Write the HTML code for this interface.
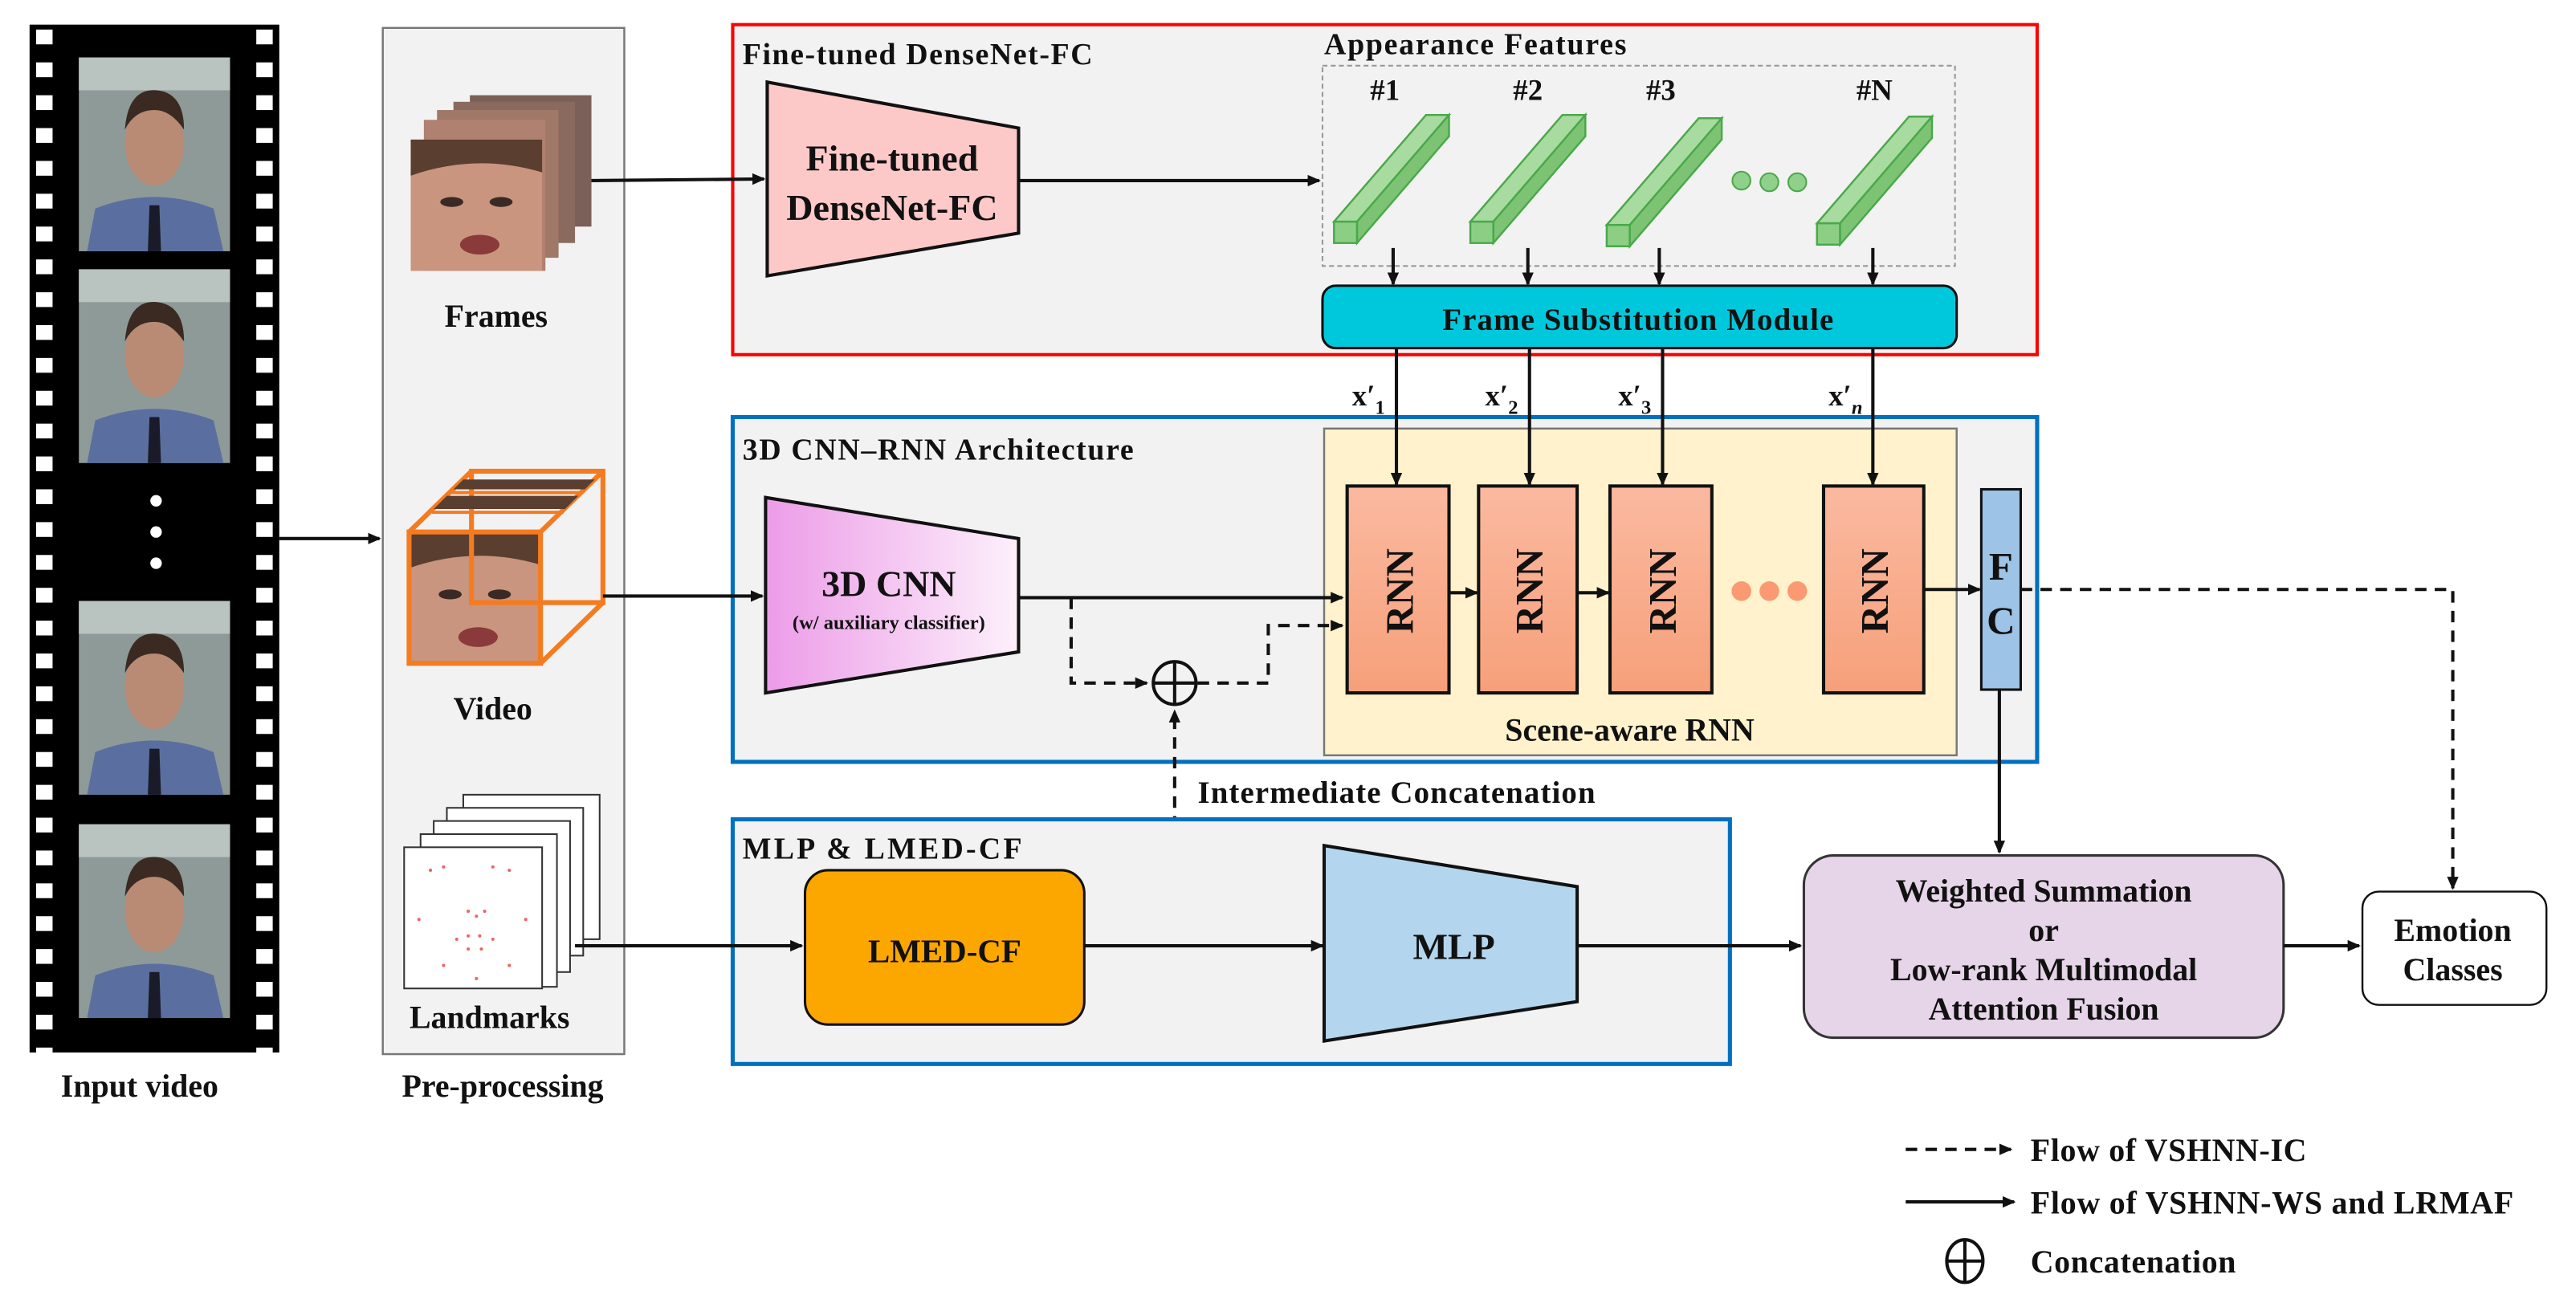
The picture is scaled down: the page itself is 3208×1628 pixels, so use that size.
<!DOCTYPE html>
<html><head><meta charset="utf-8"><style>
html,body{margin:0;padding:0;background:#fff;}
svg{display:block;}
text{font-family:"Liberation Serif",serif;font-weight:bold;fill:#111;}
</style></head><body>
<svg width="3208" height="1628" viewBox="0 0 1568 796" preserveAspectRatio="none" xmlns="http://www.w3.org/2000/svg">
<defs>
<marker id="ah" markerWidth="8" markerHeight="8" refX="7" refY="4" orient="auto" markerUnits="userSpaceOnUse"><path d="M0,0.5 L8,4 L0,7.5 z" fill="#111"/></marker>
<pattern id="holes" x="0" y="18" width="10" height="20" patternUnits="userSpaceOnUse"><rect x="0" y="0" width="10" height="9" fill="#fff"/></pattern>
<linearGradient id="rnn" x1="0" y1="0" x2="0" y2="1"><stop offset="0" stop-color="#fbb9a0"/><stop offset="1" stop-color="#f6a07a"/></linearGradient>
<linearGradient id="cnn" x1="0" y1="0" x2="1" y2="0"><stop offset="0" stop-color="#ec9ce8"/><stop offset="1" stop-color="#fdf0fb"/></linearGradient>
<g id="face">
<rect x="0" y="0" width="92" height="118" fill="#8e9a98"/>
<rect x="0" y="0" width="92" height="20" fill="#b9c3c0"/>
<path d="M5,118 L10,92 Q46,78 82,92 L88,118 z" fill="#5a6fa0"/>
<path d="M43,90 L49,90 L50,118 L42,118 z" fill="#1a1a28"/>
<ellipse cx="46" cy="52" rx="18" ry="26" fill="#b98a74"/>
<path d="M28,44 Q30,18 48,20 Q64,22 64,44 Q56,32 46,32 Q34,32 28,44 z" fill="#3a2a22"/>
</g>
<g id="bigface">
<rect x="0" y="0" width="80" height="80" fill="#c9957e"/>
<path d="M0,0 L80,0 L80,20 Q40,8 0,22 z" fill="#5a3e30"/>
<ellipse cx="25" cy="38" rx="7" ry="3" fill="#3a2a25"/>
<ellipse cx="55" cy="38" rx="7" ry="3" fill="#3a2a25"/>
<ellipse cx="42" cy="64" rx="12" ry="6" fill="#8a3a3a"/>
</g>
</defs>

<!-- Film strip -->
<rect x="18" y="15" width="152" height="626" fill="#000"/>
<rect x="22" y="15" width="10" height="626" fill="url(#holes)"/>
<rect x="156" y="15" width="10" height="626" fill="url(#holes)"/>
<use href="#face" x="48" y="35"/>
<use href="#face" x="48" y="164"/>
<use href="#face" x="48" y="366"/>
<use href="#face" x="48" y="502"/>
<circle cx="95" cy="305" r="3.5" fill="#fff"/>
<circle cx="95" cy="324" r="3.5" fill="#fff"/>
<circle cx="95" cy="343" r="3.5" fill="#fff"/>
<text x="85" y="668" font-size="19.5" text-anchor="middle">Input video</text>
<line x1="170" y1="328" x2="231" y2="328" stroke="#111" stroke-width="2" marker-end="url(#ah)"/>

<!-- Preprocessing -->
<rect x="233" y="17" width="147" height="625" fill="#f2f2f2" stroke="#777" stroke-width="1.2"/>
<text x="306" y="668" font-size="19.5" text-anchor="middle">Pre-processing</text>
<rect x="286" y="58" width="74" height="80" fill="#7a6058"/>
<rect x="276" y="62" width="74" height="86" fill="#8a6a5e"/>
<rect x="266" y="67" width="74" height="90" fill="#a07868"/>
<rect x="258" y="73" width="74" height="92" fill="#b08070"/>
<use href="#bigface" x="250" y="85"/>
<text x="302" y="199" font-size="19.5" text-anchor="middle">Frames</text>
<rect x="249" y="324" width="80" height="80" fill="#c9957e"/>
<use href="#bigface" x="249" y="324"/>
<g fill="none" stroke="#f47b20" stroke-width="3">
<rect x="249" y="324" width="80" height="80"/>
<rect x="287" y="287" width="80" height="80"/>
<line x1="249" y1="324" x2="287" y2="287"/><line x1="329" y1="324" x2="367" y2="287"/>
<line x1="329" y1="404" x2="367" y2="367"/>
<line x1="275" y1="300" x2="355" y2="300" stroke-width="2"/>
<line x1="263" y1="312" x2="343" y2="312" stroke-width="2"/>
</g>
<path d="M264,310 L344,310 L352,302 L272,302 z M276,298 L356,298 L362,292 L282,292 z" fill="#5a3e30"/>
<text x="300" y="438" font-size="19.5" text-anchor="middle">Video</text>
<g fill="#fff" stroke="#333" stroke-width="1">
<rect x="282" y="484" width="83" height="88"/>
<rect x="272" y="492" width="83" height="90"/>
<rect x="264" y="500" width="83" height="92"/>
<rect x="256" y="508" width="83" height="93"/>
<rect x="246" y="516" width="84" height="86"/>
</g>
<g fill="#e66">
<circle cx="262" cy="530" r="1"/><circle cx="270" cy="528" r="1"/><circle cx="300" cy="528" r="1"/><circle cx="310" cy="530" r="1"/>
<circle cx="285" cy="555" r="1"/><circle cx="290" cy="558" r="1"/><circle cx="295" cy="555" r="1"/>
<circle cx="278" cy="572" r="1"/><circle cx="285" cy="570" r="1"/><circle cx="292" cy="570" r="1"/><circle cx="300" cy="572" r="1"/>
<circle cx="285" cy="578" r="1"/><circle cx="293" cy="578" r="1"/><circle cx="255" cy="560" r="1"/><circle cx="320" cy="560" r="1"/>
<circle cx="270" cy="588" r="1"/><circle cx="310" cy="588" r="1"/><circle cx="290" cy="596" r="1"/>
</g>
<text x="298" y="626" font-size="19.5" text-anchor="middle">Landmarks</text>

<!-- Red box -->
<rect x="446" y="15" width="794" height="201" fill="#f2f2f2" stroke="#f00" stroke-width="2"/>
<text x="452" y="39" font-size="18.5" textLength="213">Fine-tuned DenseNet-FC</text>
<polygon points="467,50 620,78 620,142 467,168" fill="#fcc9c8" stroke="#111" stroke-width="2"/>
<text x="543" y="104" font-size="22.5" text-anchor="middle">Fine-tuned</text>
<text x="543" y="134" font-size="22.5" text-anchor="middle">DenseNet-FC</text>
<line x1="360" y1="110" x2="465" y2="109" stroke="#111" stroke-width="2" marker-end="url(#ah)"/>
<line x1="620" y1="110" x2="803" y2="110" stroke="#111" stroke-width="2" marker-end="url(#ah)"/>
<rect x="805" y="40" width="385" height="122" fill="none" stroke="#999" stroke-width="1" stroke-dasharray="3,2"/>
<text x="806" y="33" font-size="18.5" textLength="184">Appearance Features</text>
<g font-size="18" text-anchor="middle">
<text x="843" y="61">#1</text><text x="930" y="61">#2</text><text x="1011" y="61">#3</text><text x="1141" y="61">#N</text>
</g>
<g stroke="#4aa84a" stroke-width="1.2">
<g id="bar">
<polygon points="812,135 868,70 882,70 826,135" fill="#a8dba0"/>
<polygon points="826,135 882,70 882,83 826,148" fill="#7cc474"/>
<rect x="812" y="135" width="14" height="13" fill="#8ccf84"/>
</g>
<use href="#bar" x="83"/>
<use href="#bar" x="166" y="2"/>
<use href="#bar" x="294" y="1"/>
</g>
<g fill="#8fd18a" stroke="#4aa84a"><circle cx="1060" cy="110" r="5.5"/><circle cx="1077" cy="111" r="5.5"/><circle cx="1094" cy="111" r="5.5"/></g>
<g stroke="#111" stroke-width="2" marker-end="url(#ah)">
<line x1="848" y1="151" x2="848" y2="173"/><line x1="930" y1="151" x2="930" y2="173"/>
<line x1="1010" y1="151" x2="1010" y2="173"/><line x1="1140" y1="151" x2="1140" y2="173"/>
</g>
<rect x="805" y="174" width="386" height="38" rx="8" fill="#00c8dc" stroke="#111" stroke-width="1.5"/>
<text x="997" y="201" font-size="19" text-anchor="middle" textLength="238">Frame Substitution Module</text>

<!-- Blue box 3D CNN-RNN -->
<rect x="446" y="254" width="794" height="210" fill="#f2f2f2" stroke="#0070c0" stroke-width="2.5"/>
<text x="452" y="280" font-size="18.5" textLength="238">3D CNN–RNN Architecture</text>
<rect x="806" y="261" width="385" height="199" fill="#fff2cc" stroke="#777" stroke-width="1.2"/>
<text x="992" y="451" font-size="19.5" text-anchor="middle">Scene-aware RNN</text>
<g stroke="#111" stroke-width="2" marker-end="url(#ah)">
<line x1="850" y1="212" x2="850" y2="295"/><line x1="931" y1="212" x2="931" y2="295"/>
<line x1="1012" y1="212" x2="1012" y2="295"/><line x1="1140" y1="212" x2="1140" y2="295"/>
</g>
<g font-size="18">
<text x="823" y="247">x′<tspan font-size="12" dy="5">1</tspan></text>
<text x="904" y="247">x′<tspan font-size="12" dy="5">2</tspan></text>
<text x="985" y="247">x′<tspan font-size="12" dy="5">3</tspan></text>
<text x="1113" y="247">x′<tspan font-size="12" dy="5" font-style="italic">n</tspan></text>
</g>
<g fill="url(#rnn)" stroke="#111" stroke-width="2">
<rect x="820" y="296" width="62" height="126"/><rect x="900" y="296" width="60" height="126"/>
<rect x="980" y="296" width="62" height="126"/><rect x="1110" y="296" width="61" height="126"/>
</g>
<g font-size="24" text-anchor="middle">
<text transform="translate(860,360) rotate(-90)">RNN</text>
<text transform="translate(939,360) rotate(-90)">RNN</text>
<text transform="translate(1020,360) rotate(-90)">RNN</text>
<text transform="translate(1149,360) rotate(-90)">RNN</text>
</g>
<g stroke="#111" stroke-width="2" marker-end="url(#ah)">
<line x1="882" y1="361" x2="899" y2="361"/><line x1="960" y1="361" x2="979" y2="361"/>
<line x1="1171" y1="359" x2="1205" y2="359"/>
</g>
<g fill="#fb9a72"><circle cx="1060" cy="360" r="6"/><circle cx="1077" cy="360" r="6"/><circle cx="1094" cy="360" r="6"/></g>
<rect x="1206" y="298" width="24" height="122" fill="#9dc3e6" stroke="#111" stroke-width="1.5"/>
<text x="1218" y="353" font-size="24" text-anchor="middle">F</text>
<text x="1218" y="386" font-size="24" text-anchor="middle">C</text>
<polygon points="466,303 620,328 620,397 466,422" fill="url(#cnn)" stroke="#111" stroke-width="2"/>
<text x="541" y="363" font-size="22.5" text-anchor="middle">3D CNN</text>
<text x="541" y="383" font-size="12" text-anchor="middle">(w/ auxiliary classifier)</text>
<line x1="367" y1="363" x2="464" y2="363" stroke="#111" stroke-width="2" marker-end="url(#ah)"/>
<line x1="620" y1="364" x2="817" y2="364" stroke="#111" stroke-width="2" marker-end="url(#ah)"/>
<g stroke="#111" stroke-width="2" stroke-dasharray="7,5" fill="none">
<polyline points="652,364 652,416 698,416" marker-end="url(#ah)"/>
<polyline points="729,416 772,416 772,381 817,381" marker-end="url(#ah)"/>
<polyline points="715,576 715,433" marker-end="url(#ah)"/>
<polyline points="1230,359 1493,359 1493,541" marker-end="url(#ah)"/>
</g>
<g stroke="#111" stroke-width="2" fill="none">
<circle cx="715" cy="416" r="13"/><line x1="702" y1="416" x2="728" y2="416"/><line x1="715" y1="403" x2="715" y2="429"/>
</g>
<text x="850" y="489" font-size="19" text-anchor="middle" textLength="242">Intermediate Concatenation</text>

<!-- MLP & LMED box -->
<rect x="446" y="499" width="607" height="149" fill="#f2f2f2" stroke="#0070c0" stroke-width="2.5"/>
<text x="452" y="523" font-size="18.5" textLength="170">MLP  &amp; LMED-CF</text>
<rect x="490" y="530" width="170" height="94" rx="14" fill="#fca600" stroke="#111" stroke-width="1.5"/>
<text x="575" y="586" font-size="20" text-anchor="middle">LMED-CF</text>
<line x1="350" y1="576" x2="488" y2="576" stroke="#111" stroke-width="2" marker-end="url(#ah)"/>
<line x1="660" y1="576" x2="805" y2="576" stroke="#111" stroke-width="2" marker-end="url(#ah)"/>
<polygon points="806,515 960,540 960,610 806,634" fill="#b4d5ee" stroke="#111" stroke-width="2"/>
<text x="885" y="584" font-size="22.5" text-anchor="middle">MLP</text>
<line x1="960" y1="576" x2="1096" y2="576" stroke="#111" stroke-width="2" marker-end="url(#ah)"/>

<line x1="1217" y1="420" x2="1217" y2="519" stroke="#111" stroke-width="2" marker-end="url(#ah)"/>
<rect x="1098" y="521" width="292" height="111" rx="18" fill="#e6d4e8" stroke="#333" stroke-width="1.5"/>
<g font-size="19.5" text-anchor="middle">
<text x="1244" y="549">Weighted Summation</text>
<text x="1244" y="573">or</text>
<text x="1244" y="597">Low-rank Multimodal</text>
<text x="1244" y="621">Attention Fusion</text>
</g>
<line x1="1390" y1="576" x2="1436" y2="576" stroke="#111" stroke-width="2" marker-end="url(#ah)"/>
<rect x="1438" y="543" width="112" height="69" rx="10" fill="#fff" stroke="#111" stroke-width="1.2"/>
<text x="1493" y="573" font-size="19.5" text-anchor="middle">Emotion</text>
<text x="1493" y="597" font-size="19.5" text-anchor="middle">Classes</text>

<!-- Legend -->
<line x1="1160" y1="700" x2="1224" y2="700" stroke="#111" stroke-width="2" stroke-dasharray="7,5" marker-end="url(#ah)"/>
<text x="1236" y="707" font-size="19.5" textLength="168">Flow of VSHNN-IC</text>
<line x1="1160" y1="732" x2="1226" y2="732" stroke="#111" stroke-width="2" marker-end="url(#ah)"/>
<text x="1236" y="739" font-size="19.5" textLength="294">Flow of VSHNN-WS and LRMAF</text>
<g stroke="#111" stroke-width="2" fill="none">
<ellipse cx="1196" cy="768" rx="11" ry="13"/><line x1="1185" y1="768" x2="1207" y2="768"/><line x1="1196" y1="755" x2="1196" y2="781"/>
</g>
<text x="1236" y="775" font-size="19.5" textLength="125">Concatenation</text>
</svg>
</body></html>
